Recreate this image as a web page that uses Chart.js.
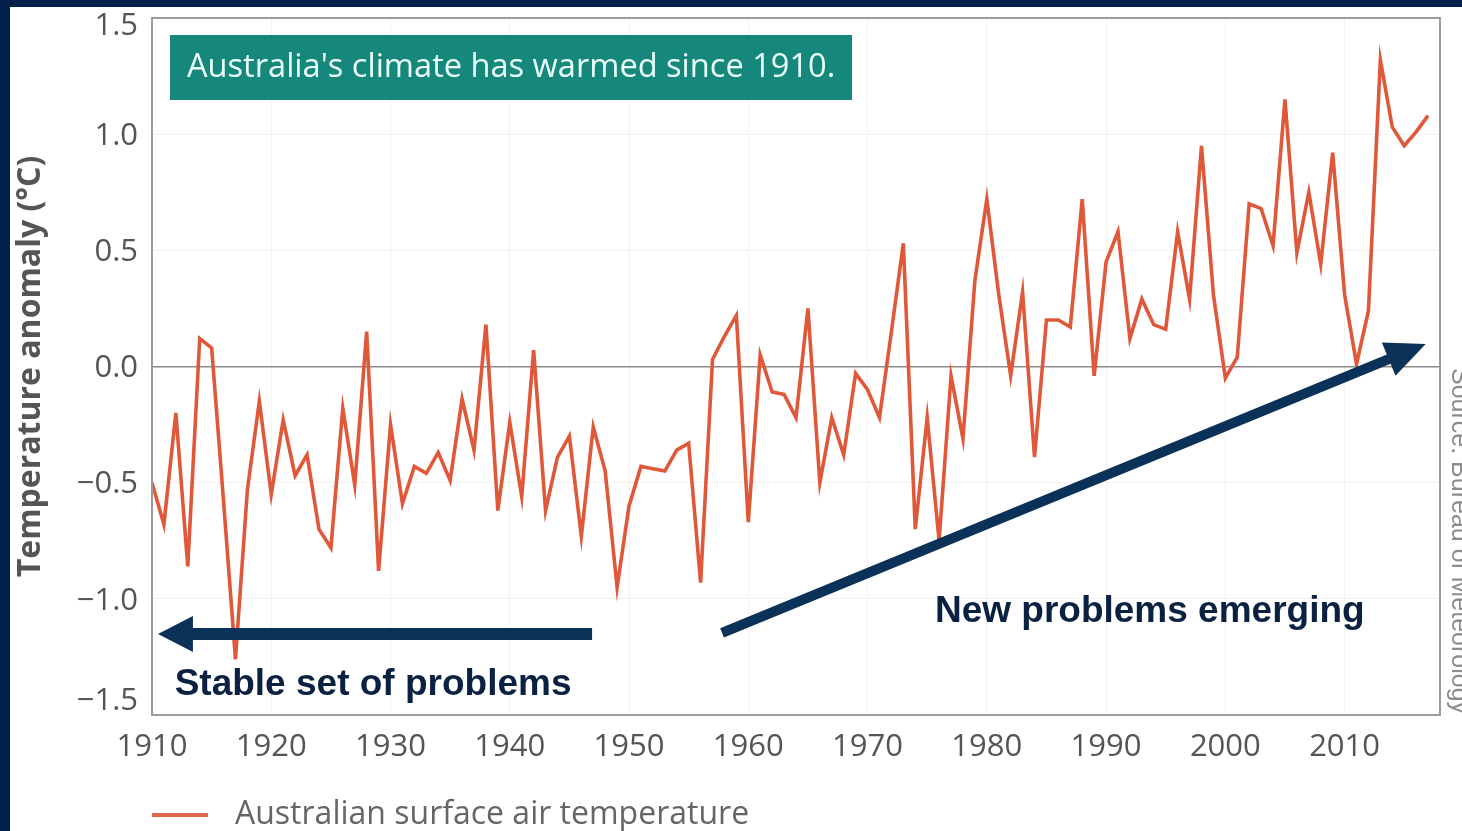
<!DOCTYPE html>
<html><head><meta charset="utf-8">
<script src="https://cdn.jsdelivr.net/npm/chart.js@4"></script>
<style>html,body{margin:0;padding:0;background:#fff;overflow:hidden}</style>
</head><body>
<canvas id="c" width="1462" height="831"></canvas>
<script>
const years = [1910,1911,1912,1913,1914,1915,1916,1917,1918,1919,
1920,1921,1922,1923,1924,1925,1926,1927,1928,1929,
1930,1931,1932,1933,1934,1935,1936,1937,1938,1939,
1940,1941,1942,1943,1944,1945,1946,1947,1948,1949,
1950,1951,1952,1953,1954,1955,1956,1957,1958,1959,
1960,1961,1962,1963,1964,1965,1966,1967,1968,1969,
1970,1971,1972,1973,1974,1975,1976,1977,1978,1979,
1980,1981,1982,1983,1984,1985,1986,1987,1988,1989,
1990,1991,1992,1993,1994,1995,1996,1997,1998,1999,
2000,2001,2002,2003,2004,2005,2006,2007,2008,2009,
2010,2011,2012,2013,2014,2015,2016,2017];
const anomaly = [-0.50,-0.68,-0.20,-0.86,0.12,0.08,-0.58,-1.26,-0.53,-0.15,
-0.55,-0.23,-0.47,-0.38,-0.70,-0.78,-0.18,-0.51,0.15,-0.88,
-0.25,-0.59,-0.43,-0.46,-0.37,-0.49,-0.14,-0.36,0.18,-0.62,
-0.24,-0.56,0.07,-0.62,-0.39,-0.30,-0.73,-0.26,-0.45,-0.95,
-0.60,-0.43,-0.44,-0.45,-0.36,-0.33,-0.93,0.03,0.13,0.22,
-0.67,0.05,-0.11,-0.12,-0.22,0.25,-0.50,-0.22,-0.38,-0.03,
-0.10,-0.22,0.15,0.53,-0.70,-0.22,-0.75,-0.04,-0.31,0.37,
0.72,0.31,-0.04,0.32,-0.39,0.20,0.20,0.17,0.72,-0.04,
0.45,0.58,0.12,0.29,0.18,0.16,0.58,0.29,0.95,0.31,
-0.05,0.04,0.70,0.68,0.52,1.15,0.49,0.75,0.44,0.92,
0.31,0.01,0.24,1.32,1.03,0.95,1.01,1.08];
const xTicks = [1910,1920,1930,1940,1950,1960,1970,1980,1990,2000,2010];
const yTicks = [1.5,1.0,0.5,0.0,-0.5,-1.0,-1.5];
const titleText = "Australia's climate has warmed since 1910.";
const yAxisTitle = "Temperature anomaly (°C)";
const seriesLabel = "Australian surface air temperature";
const sourceText = "Source: Bureau of Meteorology";
const noteLeft = "Stable set of problems";
const noteRight = "New problems emerging";

// annotation anchors in data coordinates
const arrowLeft = {from:[1946.9,-1.151], to:[1910.5,-1.151]};
const arrowRight = {from:[1957.8,-1.147], to:[2016.8,0.097]};
const noteLeftAt = [1911.9,-1.415];
const noteRightAt = [1975.65,-1.10];

const LINE = '#e0583a';
const NAVY_ARROW = '#0a3158';
const NAVY_TEXT = '#0b2142';

function fmt(v){ return (v<0?'\u2212':'') + Math.abs(v).toFixed(1); }

function drawArrow(ctx,x1,y1,x2,y2,w,hl,hh,color){
  const dx=x2-x1, dy=y2-y1, L=Math.hypot(dx,dy), ux=dx/L, uy=dy/L, nx=-uy, ny=ux;
  const bx=x2-ux*hl, by=y2-uy*hl;
  ctx.strokeStyle=color; ctx.lineWidth=w; ctx.lineCap='butt';
  ctx.beginPath(); ctx.moveTo(x1,y1); ctx.lineTo(bx+ux*2,by+uy*2); ctx.stroke();
  ctx.fillStyle=color; ctx.beginPath();
  ctx.moveTo(x2,y2); ctx.lineTo(bx+nx*hh,by+ny*hh); ctx.lineTo(bx-nx*hh,by-ny*hh);
  ctx.closePath(); ctx.fill();
}

const deco = {
  id:'deco',
  beforeDraw(chart){
    const ctx=chart.ctx; ctx.save();
    ctx.fillStyle='#ffffff'; ctx.fillRect(0,0,chart.width,chart.height);
    ctx.fillStyle='#03214a'; ctx.fillRect(0,0,chart.width,7); ctx.fillRect(0,0,10,chart.height);
    ctx.restore();
  },
  afterDatasetsDraw(chart){
    const ctx=chart.ctx, ca=chart.chartArea, xs=chart.scales.x, ys=chart.scales.y;
    ctx.save();
    // plot frame
    ctx.strokeStyle='#9c9c9c'; ctx.lineWidth=2;
    ctx.strokeRect(ca.left, ca.top, ca.right-ca.left, ca.bottom-ca.top);
    // title box
    ctx.fillStyle='#15877b';
    ctx.fillRect(ca.left+18, ca.top+17, 682, 65);
    ctx.fillStyle='#eafffb'; ctx.font='32.6px "Open Sans"'; ctx.textBaseline='middle'; ctx.textAlign='left';
    ctx.fillText(titleText, ca.left+35, ca.top+50);
    // arrows
    drawArrow(ctx, xs.getPixelForValue(arrowLeft.from[0]), ys.getPixelForValue(arrowLeft.from[1]),
      xs.getPixelForValue(arrowLeft.to[0]), ys.getPixelForValue(arrowLeft.to[1]), 12, 35, 18, NAVY_ARROW);
    drawArrow(ctx, xs.getPixelForValue(arrowRight.from[0]), ys.getPixelForValue(arrowRight.from[1]),
      xs.getPixelForValue(arrowRight.to[0]), ys.getPixelForValue(arrowRight.to[1]), 10, 40, 18, NAVY_ARROW);
    // notes
    ctx.fillStyle=NAVY_TEXT; ctx.font='bold 37px "Liberation Sans"'; ctx.textBaseline='alphabetic';
    ctx.fillText(noteLeft, xs.getPixelForValue(noteLeftAt[0]), ys.getPixelForValue(noteLeftAt[1]));
    ctx.fillText(noteRight, xs.getPixelForValue(noteRightAt[0]), ys.getPixelForValue(noteRightAt[1]));
    ctx.restore();
  },
  afterDraw(chart){
    const ctx=chart.ctx, ca=chart.chartArea, ys=chart.scales.y;
    ctx.save();
    // y tick labels
    ctx.font='31px "Open Sans"'; ctx.fillStyle='#555'; ctx.textAlign='right'; ctx.textBaseline='middle';
    yTicks.forEach(v=>{
      let py=ys.getPixelForValue(v)+2;
      py=Math.max(ca.top+8, Math.min(ca.bottom-14, py));
      ctx.fillText(fmt(v), ca.left-14, py);
    });
    // legend
    ctx.strokeStyle='#e0684e'; ctx.lineWidth=4;
    ctx.beginPath(); ctx.moveTo(ca.left,815); ctx.lineTo(ca.left+56,815); ctx.stroke();
    ctx.fillStyle='#666'; ctx.textAlign='left'; ctx.font='32px "Open Sans"';
    ctx.fillText(seriesLabel, ca.left+83, 815);
    // source
    ctx.translate(ca.right+12, ca.top+350); ctx.rotate(Math.PI/2);
    ctx.font='25px "Liberation Sans"'; ctx.fillStyle='#8c8c8c'; ctx.textBaseline='alphabetic';
    ctx.fillText(sourceText, 0, 0);
    ctx.restore();
  }
};

new Chart(document.getElementById('c'), {
  type:'line',
  data:{ datasets:[{ label:seriesLabel, data: years.map((y,i)=>({x:y,y:anomaly[i]})),
    borderColor:LINE, borderWidth:3.6, pointRadius:0, tension:0, fill:false }] },
  options:{
    responsive:false, animation:false, devicePixelRatio:1,
    layout:{ padding:{ top:18, right:22, left:0, bottom:0 } },
    plugins:{ legend:{display:false}, tooltip:{enabled:false} },
    scales:{
      x:{ type:'linear', min:1910, max:2018,
        afterBuildTicks(s){ s.ticks = xTicks.map(v=>({value:v})); },
        afterFit(s){ s.height = 116; },
        grid:{ color:'#f2f2f2', lineWidth:1, drawTicks:false },
        border:{ display:false },
        ticks:{ font:{family:'Open Sans', size:31}, color:'#555', padding:14, maxRotation:0, autoSkip:false, callback:v=>String(v) }
      },
      y:{ type:'linear', min:-1.5, max:1.5,
        afterBuildTicks(s){ s.ticks = yTicks.map(v=>({value:v})); },
        afterFit(s){ s.width = 152; },
        grid:{ color:c=>(c.tick && c.tick.value===0)?'#8c8c8c':'#f2f2f2', lineWidth:c=>(c.tick && c.tick.value===0)?1.5:1, drawTicks:false },
        border:{ display:false },
        ticks:{ display:false },
        title:{ display:true, text:yAxisTitle, font:{family:'Open Sans', size:32, weight:'bold'}, color:'#555', padding:{top:12,bottom:0} }
      }
    }
  },
  plugins:[deco]
});
</script>
</body></html>
